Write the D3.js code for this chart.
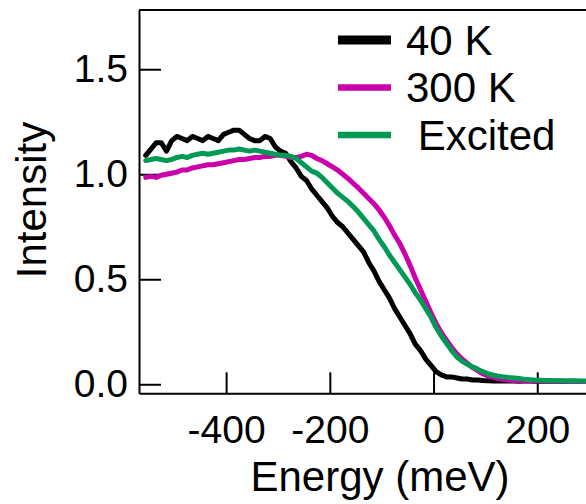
<!DOCTYPE html>
<html>
<head>
<meta charset="utf-8">
<script src="https://cdn.jsdelivr.net/npm/d3@7"></script>
<style>
  html, body { margin: 0; padding: 0; background: #fff; }
  svg { display: block; }
  text { font-family: "Liberation Sans", Arial, Helvetica, sans-serif; fill: #000; }
</style>
</head>
<body>
<svg id="chart" width="586" height="504"></svg>
<script>
// ---- data ----
const energy = [
  -555,-545,-535,-525,-515,-505,-495,-485,-475,-465,-455,-445,-435,-425,-415,-405,-395,-385,-375,-365,
  -355,-345,-335,-325,-315,-305,-295,-285,-275,-265,-255,-245,-235,-225,-215,-205,-195,-185,-175,-165,
  -155,-145,-135,-125,-115,-105,-95,-85,-75,-65,-55,-45,-35,-25,-15,-5,5,15,25,35,
  45,55,65,75,85,95,105,115,125,135,145,155,165,175,185,195,205,215,225,235,
  245,255,265,275,285,295
];
const k40 = [
  1.09,1.12,1.15,1.15,1.11,1.16,1.18,1.17,1.16,1.18,1.17,1.16,1.18,1.17,1.16,1.19,1.20,1.21,1.21,1.19,
  1.17,1.16,1.16,1.18,1.17,1.13,1.11,1.10,1.06,1.03,0.99,0.97,0.93,0.90,0.87,0.84,0.80,0.77,0.75,0.72,
  0.69,0.66,0.63,0.58,0.54,0.49,0.45,0.41,0.36,0.32,0.28,0.24,0.19,0.16,0.12,0.09,0.06,0.045,0.035,0.035,
  0.03,0.025,0.025,0.02,0.02,0.018,0.017,0.016,0.016,0.015,0.015,0.015,0.014,0.015,0.015,0.014,0.014,0.015,0.014,0.014,
  0.014,0.013,0.014,0.014,0.013,0.013
];
const k300 = [
  0.985,0.99,0.985,0.995,1.00,1.005,1.01,1.02,1.02,1.03,1.035,1.04,1.045,1.045,1.05,1.055,1.06,1.065,1.07,1.07,
  1.075,1.08,1.08,1.085,1.085,1.09,1.09,1.085,1.08,1.08,1.085,1.095,1.09,1.075,1.065,1.05,1.035,1.02,1.00,0.98,
  0.957,0.935,0.91,0.885,0.86,0.83,0.795,0.755,0.71,0.67,0.62,0.565,0.505,0.45,0.395,0.34,0.29,0.245,0.21,0.175,
  0.145,0.12,0.10,0.08,0.065,0.05,0.04,0.033,0.027,0.022,0.02,0.018,0.017,0.016,0.016,0.015,0.015,0.015,0.014,0.014,
  0.014,0.014,0.013,0.013,0.013,0.013
];
const excited = [
  1.065,1.07,1.075,1.07,1.065,1.07,1.08,1.085,1.08,1.09,1.095,1.10,1.095,1.10,1.105,1.11,1.115,1.115,1.12,1.115,
  1.11,1.115,1.11,1.105,1.10,1.095,1.09,1.09,1.085,1.075,1.055,1.035,1.015,1.005,0.985,0.96,0.935,0.91,0.89,0.87,
  0.846,0.82,0.79,0.76,0.73,0.69,0.655,0.615,0.58,0.545,0.51,0.475,0.435,0.40,0.36,0.32,0.27,0.23,0.195,0.16,
  0.13,0.11,0.095,0.083,0.072,0.06,0.05,0.043,0.038,0.035,0.032,0.03,0.027,0.024,0.022,0.02,0.019,0.018,0.018,0.017,
  0.017,0.016,0.017,0.016,0.016,0.016
];
const seriesNames = ["40 K", "300 K", " Excited"];
const seriesColors = ["#000000", "#cc00aa", "#009a55"];
const xTicks = [-400, -200, 0, 200];
const yTicks = [0.0, 0.5, 1.0, 1.5];

// ---- layout ----
const svg = d3.select("#chart");
const pLeft = 139, pRight = 586, pTop = 10, pBottom = 393.3;
const x = d3.scaleLinear().domain([-568, 294]).range([pLeft, pRight]);
const y = d3.scaleLinear().domain([-0.043, 1.782]).range([pBottom, pTop]);

// frame top line (right edge cropped)
svg.append("line")
  .attr("x1", pLeft).attr("x2", 586).attr("y1", pTop).attr("y2", pTop)
  .attr("stroke", "#000").attr("stroke-width", 2);

// axes
const gx = svg.append("g").attr("transform", `translate(0,${pBottom})`)
  .call(d3.axisBottom(x).tickValues(xTicks).tickSize(-21).tickPadding(22).tickSizeOuter(0).tickFormat(d3.format("d")));
const gy = svg.append("g").attr("transform", `translate(${pLeft},0)`)
  .call(d3.axisLeft(y).tickValues(yTicks).tickSize(-22).tickPadding(11).tickSizeOuter(0).tickFormat(d3.format(".1f")));
[gx, gy].forEach(g => {
  g.select(".domain").attr("stroke", "#000").attr("stroke-width", 2);
  g.selectAll(".tick line").attr("stroke", "#000").attr("stroke-width", 2);
  g.selectAll(".tick text").attr("font-size", 39).attr("font-family", "Liberation Sans, Arial, sans-serif").attr("fill", "#000");
});
gx.selectAll(".tick text").text(d => d < 0 ? "-" + Math.abs(d) : d);

// axis titles
svg.append("text").attr("x", 380).attr("y", 491).attr("text-anchor", "middle")
  .attr("font-size", 42).text("Energy (meV)");
svg.append("text").attr("transform", "translate(46,200) rotate(-90)").attr("text-anchor", "middle")
  .attr("font-size", 42).text("Intensity");

// curves
svg.append("clipPath").attr("id", "clip").append("rect")
  .attr("x", pLeft + 1).attr("y", pTop).attr("width", pRight - pLeft).attr("height", pBottom - pTop - 1);
const allSeries = [k40, k300, excited];
const line = d3.line().x((d, i) => x(energy[i])).y(d => y(d));
const gl = svg.append("g").attr("clip-path", "url(#clip)");
allSeries.forEach((s, i) => {
  gl.append("path").datum(s).attr("d", line)
    .attr("fill", "none").attr("stroke", seriesColors[i])
    .attr("stroke-width", 5).attr("stroke-linejoin", "round").attr("stroke-linecap", "round");
});

// legend
const lg = svg.append("g");
const legendWidths = [9, 6.5, 6.5];
seriesNames.forEach((n, i) => {
  const ly = 40 + i * 47.5;
  lg.append("line").attr("x1", 338).attr("x2", 391).attr("y1", ly).attr("y2", ly)
    .attr("stroke", seriesColors[i]).attr("stroke-width", legendWidths[i]);
  lg.append("text").attr("x", 406).attr("y", ly + 14.5).attr("font-size", 42)
    .attr("xml:space", "preserve").style("white-space", "pre").text(n);
});
</script>
</body>
</html>
